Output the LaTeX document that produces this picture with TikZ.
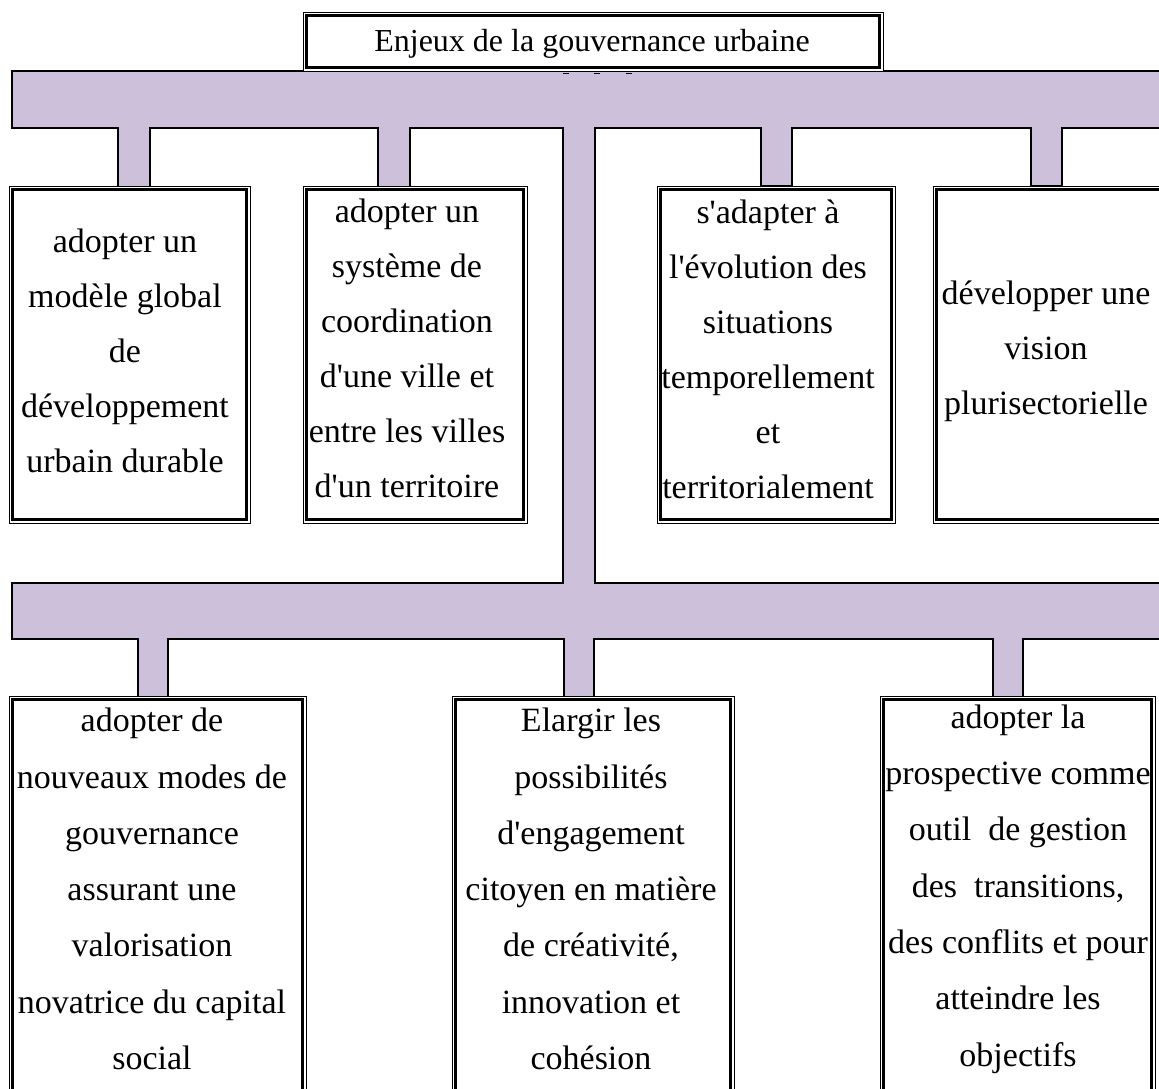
\documentclass[tikz,border=0pt]{standalone}
\usepackage{fontspec}
\setmainfont{Liberation Serif}
\definecolor{barpurple}{HTML}{CCC0DA}
\newcommand{\ap}{\textquotesingle}
\begin{document}
\begin{tikzpicture}[x=1pt,y=-1pt,
  boxframe/.style={draw, fill=white, line width=0.9pt, inner sep=0pt, outer sep=0pt},
  innerframe/.style={line width=2.6pt},
  ttl/.style={align=center, inner sep=0pt, font=\fontsize{32}{55}\selectfont},
  txt/.style={align=center, inner sep=0pt, font=\fontsize{34}{55}\selectfont},
  txtb/.style={align=center, inner sep=0pt, font=\fontsize{34}{56.3}\selectfont},
  bar/.style={fill=barpurple, draw=black, line width=1.3pt, line join=miter}]
\useasboundingbox (0,0) rectangle (1159,1089);
\fill[white] (0,0) rectangle (1159,1089);
\clip (0,0) rectangle (1159,1089);

% purple connector shape
\draw[bar] (12,71) -- (1175,71) -- (1175,128)
  -- (1062,128) -- (1062,186) -- (1031,186) -- (1031,128)
  -- (792,128) -- (792,186) -- (761,186) -- (761,128)
  -- (595,128) -- (595,583) -- (1175,583) -- (1175,639)
  -- (1023,639) -- (1023,700) -- (993,700) -- (993,639)
  -- (594,639) -- (594,700) -- (564,700) -- (564,639)
  -- (168,639) -- (168,700) -- (138,700) -- (138,639)
  -- (12,639) -- (12,583) -- (563,583) -- (563,128)
  -- (410,128) -- (410,190) -- (378,190) -- (378,128)
  -- (150,128) -- (150,190) -- (118,190) -- (118,128)
  -- (12,128) -- cycle;

% boxes
\newcommand{\dblbox}[5]{%
  \node[boxframe, minimum width=#4pt-#2pt, minimum height=#5pt-#3pt] (#1)
     at ({(#2+#4)/2},{(#3+#5)/2}) {};
  \draw[innerframe] ([shift={(3.5,3.5)}]#1.north west) rectangle ([shift={(-3.5,-3.5)}]#1.south east);}

\dblbox{title}{303}{12}{883}{71}
\dblbox{b1}{9}{186}{250}{523}
\dblbox{b2}{303}{186}{527}{523}
\dblbox{b3}{657}{186}{895}{523}
\dblbox{b4}{933}{186}{1180}{523}
\dblbox{c1}{9}{696}{306}{1110}
\dblbox{c2}{452}{696}{734}{1110}
\dblbox{c3}{880}{696}{1155}{1110}

% small ticks under the title box
\draw[line width=1.5pt] (563,73.5) -- (569,73.5);
\draw[line width=1.5pt] (594,73.5) -- (600,73.5);
\draw[line width=1.5pt] (626,73.5) -- (632,73.5);

% texts
\node[ttl] (ttitle) at (592,44) {Enjeux de la gouvernance urbaine};
\node[txt] (tb1) at (125,351) {adopter un\\modèle global\\de\\développement\\urbain durable};
\node[txt] (tb2) at (407,348) {adopter un\\système de\\coordination\\d\ap une ville et\\entre les villes\\d\ap un territoire};
\node[txt] (tb3) at (768,349) {s\ap adapter à\\l\ap évolution des\\situations\\temporellement\\et\\territorialement};
\node[txt] (tb4) at (1046,351) {développer une\\vision\\plurisectorielle};
\node[txtb] (tc1) at (152,889) {adopter de\\nouveaux modes de\\gouvernance\\assurant une\\valorisation\\novatrice du capital\\social};
\node[txtb] (tc2) at (591,889) {Elargir les\\possibilités\\d\ap engagement\\citoyen en matière\\de créativité,\\innovation et\\cohésion};
\node[txtb] (tc3) at (1018,889) {adopter la\\prospective comme\\outil\ \ de gestion\\des\ \ transitions,\\des conflits et pour\\atteindre les\\objectifs};
\end{tikzpicture}
\end{document}
